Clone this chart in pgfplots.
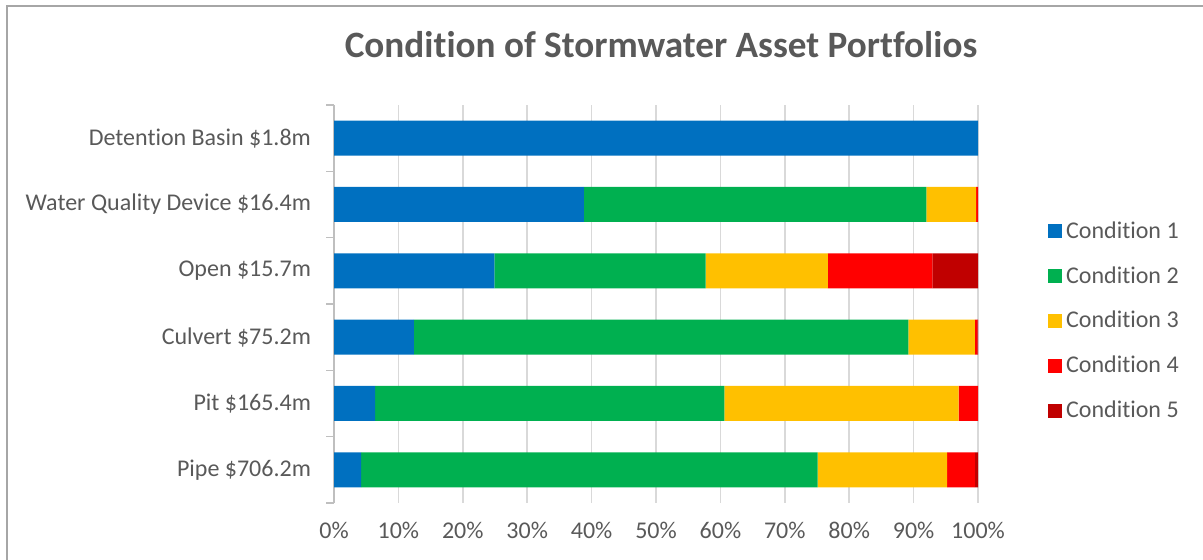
\documentclass[border=0pt]{standalone}
\usepackage{pgfplots}
\pgfplotsset{compat=1.18}
\usepackage{fontspec}
\setmainfont{Carlito}[Ligatures=NoCommon]
\definecolor{cA}{HTML}{0070C0}
\definecolor{cB}{HTML}{00B050}
\definecolor{cC}{HTML}{FFC000}
\definecolor{cD}{HTML}{FF0000}
\definecolor{cE}{HTML}{C00000}
\definecolor{txt}{HTML}{595959}
\definecolor{gridc}{HTML}{D9D9D9}
\definecolor{axc}{HTML}{BFBFBF}
\definecolor{framec}{HTML}{A6A6A6}
\begin{document}
\begin{tikzpicture}
\useasboundingbox (0pt,0pt) rectangle (601.5pt,280pt);
\draw[framec, line width=1pt] (3.5pt,0pt) -- (3.5pt,276.75pt) -- (601.5pt,276.75pt);
\node[font=\bfseries\fontsize{18.6}{22}\selectfont, text=txt] at (330.5pt,257.5pt) {Condition of Stormwater Asset Portfolios};
\begin{axis}[
  at={(167pt,28.5pt)}, anchor=south west, scale only axis,
  width=322pt, height=199pt,
  xbar stacked, bar width=17.5pt,
  xmin=0, xmax=100, ymin=-0.5, ymax=5.5,
  xtick={0,10,...,100},
  xticklabels={0\%,10\%,20\%,30\%,40\%,50\%,60\%,70\%,80\%,90\%,100\%},
  ytick={0,1,2,3,4,5},
  yticklabels={Pipe \$706.2m, Pit \$165.4m, Culvert \$75.2m, Open \$15.7m, Water Quality Device \$16.4m, Detention Basin \$1.8m},
  minor ytick={-0.5,0.5,...,5.5},
  major tick length=0pt, minor tick length=4pt, tick align=outside,
  minor tick style={axc, line width=0.75pt},
  xmajorgrids, grid style={gridc, line width=0.75pt},
  axis lines*=left,
  x axis line style={draw=none},
  y axis line style={axc, line width=0.75pt},
  ticklabel style={font=\fontsize{12}{14}\selectfont, text=txt},
  xticklabel style={yshift=-6pt},
  yticklabel style={xshift=-8pt},
  legend style={at={(1.099,0.457)}, anchor=west, draw=none, fill=none,
    font=\fontsize{12}{14}\selectfont, text=txt, row sep=8.6pt,
    /tikz/every even column/.append style={column sep=2pt}},
  legend cell align=left,
  legend image code/.code={\fill[#1] (0pt,-3.5pt) rectangle (7pt,3.5pt);},
]
\addplot[fill=cA, draw=none] coordinates {(4.2,0) (6.4,1) (12.4,2) (24.9,3) (38.8,4) (100,5)};
\addplot[fill=cB, draw=none] coordinates {(70.9,0) (54.2,1) (76.8,2) (32.8,3) (53.2,4) (0,5)};
\addplot[fill=cC, draw=none] coordinates {(20.1,0) (36.4,1) (10.3,2) (19.0,3) (7.7,4) (0,5)};
\addplot[fill=cD, draw=none] coordinates {(4.3,0) (3.0,1) (0.4,2) (16.2,3) (0.3,4) (0,5)};
\addplot[fill=cE, draw=none] coordinates {(0.5,0) (0,1) (0.1,2) (7.1,3) (0,4) (0,5)};
\legend{Condition 1, Condition 2, Condition 3, Condition 4, Condition 5}
\end{axis}
\end{tikzpicture}
\end{document}
